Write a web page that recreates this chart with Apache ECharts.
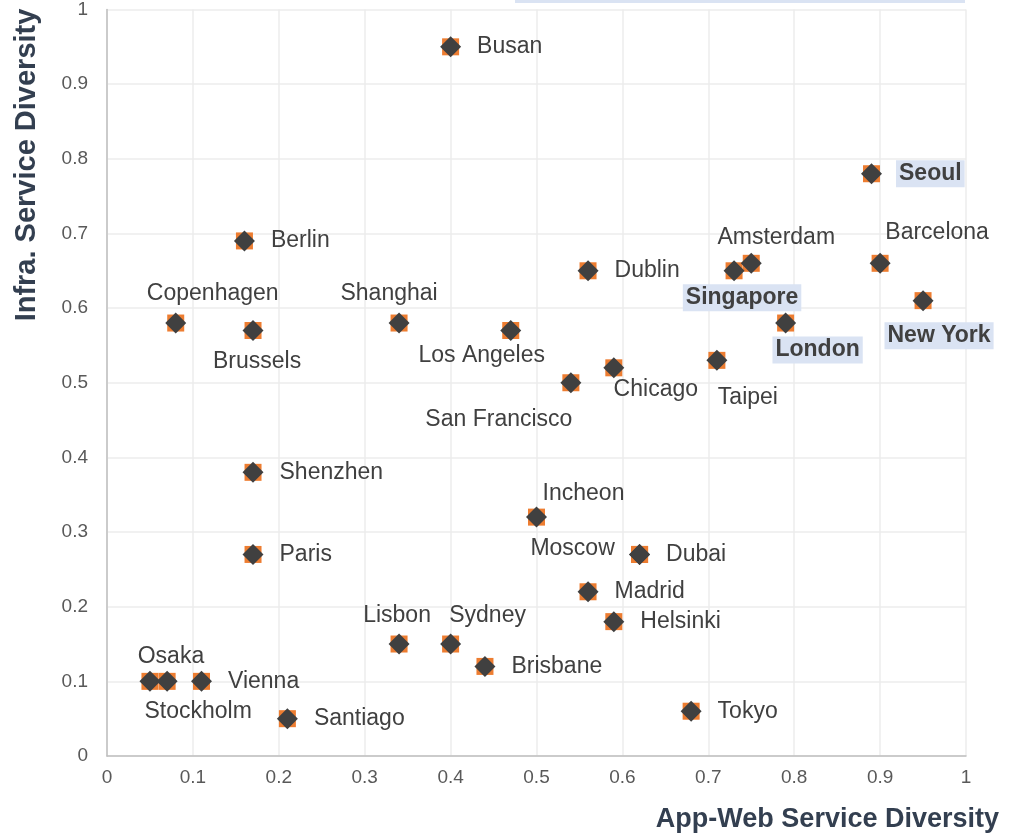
<!DOCTYPE html>
<html>
<head>
<meta charset="utf-8">
<script src="https://cdn.jsdelivr.net/npm/echarts@6/dist/echarts.min.js"></script>
<style>
  html, body { margin: 0; padding: 0; background: #fff; }
  #chart { width: 1026px; height: 835px; }
</style>
</head>
<body>
<div id="chart"></div>
<script>
// city data
const cities = ['Busan', 'Seoul', 'Berlin', 'Copenhagen', 'Brussels', 'Shanghai', 'Los Angeles', 'Dublin',
  'Amsterdam', 'Singapore', 'Barcelona', 'New York', 'London', 'Taipei', 'Chicago', 'San Francisco',
  'Shenzhen', 'Incheon', 'Paris', 'Dubai', 'Moscow', 'Madrid', 'Helsinki', 'Lisbon', 'Sydney',
  'Brisbane', 'Tokyo', 'Osaka', 'Stockholm', 'Vienna', 'Santiago'];
const appWeb = [0.40, 0.89, 0.16, 0.08, 0.17, 0.34, 0.47, 0.56,
  0.75, 0.73, 0.90, 0.95, 0.79, 0.71, 0.59, 0.54,
  0.17, 0.50, 0.17, 0.62, 0.62, 0.56, 0.59, 0.34, 0.40,
  0.44, 0.68, 0.05, 0.07, 0.11, 0.21];
const infra = [0.95, 0.78, 0.69, 0.58, 0.57, 0.58, 0.57, 0.65,
  0.66, 0.65, 0.66, 0.61, 0.58, 0.53, 0.52, 0.50,
  0.38, 0.32, 0.27, 0.27, 0.27, 0.22, 0.18, 0.15, 0.15,
  0.12, 0.06, 0.10, 0.10, 0.10, 0.05];
const highlighted = ['Seoul', 'Singapore', 'London', 'New York'];
const tickValues = [0, 0.1, 0.2, 0.3, 0.4, 0.5, 0.6, 0.7, 0.8, 0.9, 1];

// label placement: offset of label centre from the marker (others sit to the right)
const labelCentre = {
  'Copenhagen': [37, -29], 'Brussels': [4, 31], 'Shanghai': [-10, -29], 'Los Angeles': [-29, 25],
  'Amsterdam': [25, -26], 'Singapore': [8, 27], 'Barcelona': [57, -31], 'New York': [16, 35],
  'London': [32, 27], 'Taipei': [31, 37], 'Chicago': [42, 22], 'San Francisco': [-72, 37],
  'Incheon': [47, -23], 'Moscow': [-67, -6], 'Lisbon': [-2, -28], 'Sydney': [37, -28],
  'Osaka': [21, -25], 'Stockholm': [31, 30]
};

const diamondSize = 21;

const points = cities.map((name, i) => {
  const bold = highlighted.indexOf(name) >= 0;
  const label = bold
    ? { fontWeight: 'bold', backgroundColor: '#dae3f3', padding: [3, 3, 1, 3] }
    : {};
  const c = labelCentre[name];
  if (c) {
    // position is relative to the symbol's top-left corner
    label.position = [diamondSize / 2 + c[0], diamondSize / 2 + c[1]];
    label.align = 'center';
    label.verticalAlign = 'middle';
  } else {
    label.position = 'right';
    label.distance = bold ? 14 : 16;
  }
  return { name: name, value: [appWeb[i], infra[i]], label: label };
});

const chart = echarts.init(document.getElementById('chart'));
const font = 'Liberation Sans, Arial, sans-serif';

chart.setOption({
  animation: false,
  textStyle: { fontFamily: font },
  grid: { left: 107, right: 60, top: 8, bottom: 79, containLabel: false },
  xAxis: {
    type: 'value', min: 0, max: 1, interval: 0.1,
    axisLine: { show: true, lineStyle: { color: '#bfbfbf', width: 1.5 } },
    axisTick: { show: false },
    splitLine: { lineStyle: { color: '#ececec', width: 1.5 } },
    axisLabel: { color: '#595959', fontSize: 19, margin: 12,
      formatter: v => String(tickValues.find(t => Math.abs(t - v) < 1e-6) ?? v) }
  },
  yAxis: {
    type: 'value', min: 0, max: 1, interval: 0.1,
    axisLine: { show: true, lineStyle: { color: '#bfbfbf', width: 1.5 } },
    axisTick: { show: false },
    splitLine: { lineStyle: { color: '#ececec', width: 1.5 } },
    axisLabel: { color: '#595959', fontSize: 19, margin: 19,
      formatter: v => String(tickValues.find(t => Math.abs(t - v) < 1e-6) ?? v) }
  },
  graphic: [
    { type: 'rect', shape: { x: 515, y: 0, width: 450, height: 3 }, style: { fill: '#dae3f3' } },
    { type: 'text', x: 999, y: 820,
      style: { text: 'App-Web Service Diversity', font: 'bold 27px ' + font, fill: '#333f50',
        textAlign: 'right', textVerticalAlign: 'middle' } },
    { type: 'text', x: 27, y: 165, rotation: Math.PI / 2,
      style: { text: 'Infra. Service Diversity', font: 'bold 29px ' + font, fill: '#333f50',
        textAlign: 'center', textVerticalAlign: 'middle' } }
  ],
  series: [
    {
      type: 'scatter', symbol: 'rect', symbolSize: 17, silent: true, z: 2,
      itemStyle: { color: '#ed7d31', opacity: 1 },
      data: points.map(p => p.value)
    },
    {
      type: 'scatter', symbol: 'diamond', symbolSize: diamondSize, z: 3,
      itemStyle: { color: '#404040', opacity: 1 },
      label: { show: true, formatter: '{b}', color: '#404040', fontSize: 23, fontFamily: font },
      labelLayout: { hideOverlap: false },
      data: points
    }
  ]
});
</script>
</body>
</html>
